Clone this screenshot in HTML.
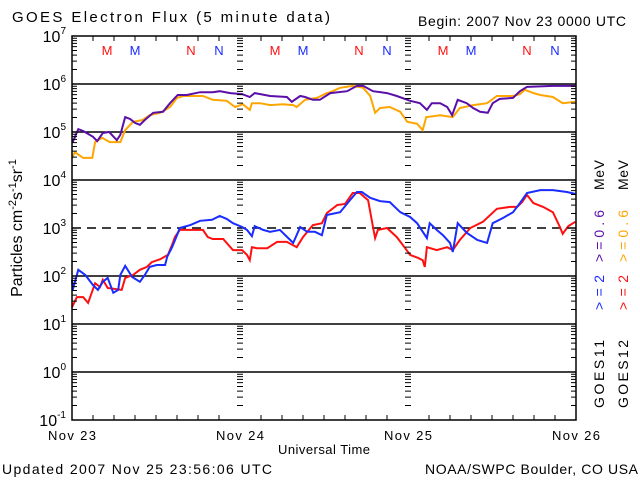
<!DOCTYPE html>
<html><head><meta charset="utf-8"><style>
body{margin:0;background:#fff}
svg{display:block;font-family:"Liberation Sans",sans-serif}
</style></head><body>
<svg id="c" width="640" height="480" viewBox="0 0 640 480" xmlns="http://www.w3.org/2000/svg">
<rect width="640" height="480" fill="#fff"/>
<text x="12" y="22" font-size="15" textLength="318" lengthAdjust="spacing">GOES Electron Flux (5 minute data)</text>
<text x="418" y="26" font-size="14" textLength="208" lengthAdjust="spacing">Begin: 2007 Nov 23 0000 UTC</text>
<text x="278" y="454" font-size="13" textLength="92" lengthAdjust="spacing">Universal Time</text>
<text x="2" y="474" font-size="14" textLength="270" lengthAdjust="spacing">Updated 2007 Nov 25 23:56:06 UTC</text>
<text x="425" y="474" font-size="14" textLength="213" lengthAdjust="spacing">NOAA/SWPC Boulder, CO USA</text>
<text transform="translate(22,228) rotate(-90)" font-size="16" text-anchor="middle">Particles cm<tspan dy="-6" font-size="11">-2</tspan><tspan dy="6">s</tspan><tspan dy="-6" font-size="11">-1</tspan><tspan dy="6">sr</tspan><tspan dy="-6" font-size="11">-1</tspan></text>
<g font-size="14">
<text transform="translate(604,408) rotate(-90)" textLength="68" lengthAdjust="spacing">GOES11</text>
<text transform="translate(604,310) rotate(-90)" fill="#1a2cff" textLength="35" lengthAdjust="spacing">&gt;=2</text>
<text transform="translate(604,262) rotate(-90)" fill="#5a0fa8" textLength="52" lengthAdjust="spacing">&gt;=0.6</text>
<text transform="translate(604,190) rotate(-90)" textLength="30" lengthAdjust="spacing">MeV</text>
<text transform="translate(628,408) rotate(-90)" textLength="68" lengthAdjust="spacing">GOES12</text>
<text transform="translate(628,310) rotate(-90)" fill="#ff1010" textLength="35" lengthAdjust="spacing">&gt;=2</text>
<text transform="translate(628,262) rotate(-90)" fill="#ffa500" textLength="52" lengthAdjust="spacing">&gt;=0.6</text>
<text transform="translate(628,190) rotate(-90)" textLength="30" lengthAdjust="spacing">MeV</text>
</g>
<g id="grid"></g><g id="series"></g><g id="axes"></g>
</svg>
<script>
const hoursP=[0.1,0.9,1.6,3.0,3.6,4.4,5.3,6.4,6.9,7.6,8.3,9.0,9.7,10.4,11.6,13.0,14.0,15.1,16.4,18.3,20.1,21.1,22.6,24.3,25.4,26.1,26.9,28.3,30.7,31.4,32.6,33.3,34.4,35.4,36.9,39.3,40.7,41.6,43.0,45.0,46.4,48.3,49.7,50.7,51.4,52.6,53.6,54.3,55.1,56.4,57.3,58.3,59.4,60.1,61.1,63.0,64.0,65.0,68.7,71.9];
const logPurple=[4.79,5.06,5.02,4.90,4.81,4.98,5.00,4.83,4.94,5.31,5.27,5.19,5.15,5.25,5.40,5.42,5.60,5.77,5.77,5.83,5.83,5.85,5.81,5.79,5.73,5.81,5.79,5.75,5.73,5.63,5.75,5.73,5.67,5.67,5.81,5.85,5.96,5.96,5.85,5.81,5.75,5.65,5.60,5.46,5.60,5.60,5.52,5.35,5.67,5.60,5.50,5.42,5.40,5.60,5.69,5.71,5.85,5.94,5.96,5.96];
const hoursO=[0,0.4,1.6,2.9,3.3,4.3,5.4,6.9,7.6,8.7,10.1,11.1,12.6,14.0,15.0,15.9,18.7,20.1,22.1,23.3,24.4,25.4,25.7,26.9,28.3,30.1,31.6,32.1,33.3,35.0,36.4,36.9,38.3,40.1,41.6,42.6,43.3,44.0,45.4,46.9,47.9,49.3,50.1,50.6,52.6,54.4,55.4,57.3,59.3,60.7,63.0,64.0,64.7,65.9,66.9,68.7,70.1,71.9];
const logOrange=[4.46,4.58,4.46,4.46,4.79,4.88,4.79,4.79,5.04,5.21,5.25,5.35,5.40,5.52,5.71,5.75,5.75,5.67,5.65,5.52,5.58,5.46,5.60,5.60,5.56,5.58,5.56,5.52,5.67,5.71,5.81,5.83,5.92,5.96,5.92,5.75,5.40,5.50,5.52,5.42,5.21,5.17,5.04,5.31,5.35,5.31,5.50,5.56,5.60,5.75,5.75,5.79,5.88,5.81,5.77,5.73,5.60,5.63];
const hoursB=[0,0.1,0.9,1.9,3.0,3.7,4.4,5.1,5.9,6.6,6.9,7.6,8.6,9.7,10.4,11.1,12.1,13.3,13.6,14.3,15.0,15.4,16.9,18.3,20.0,21.1,22.1,23.0,24.3,25.0,25.7,26.1,27.3,28.3,29.7,30.9,31.6,32.6,33.6,34.7,35.7,36.4,38.3,39.7,40.7,41.4,42.6,44.0,45.4,46.9,48.3,49.3,50.7,51.1,52.1,53.0,54.0,54.4,55.1,56.4,57.9,59.3,60.1,61.6,63.0,64.0,65.0,66.9,68.7,70.7,71.9];
const logBlue=[1.92,1.71,2.13,2.02,1.81,1.71,1.88,1.96,1.65,1.71,2.02,2.21,1.98,1.88,2.02,2.19,2.23,2.23,2.40,2.60,2.85,3.00,3.06,3.15,3.17,3.25,3.19,3.10,3.02,2.96,2.83,3.04,2.96,2.92,2.96,2.79,2.69,3.02,2.92,2.92,2.85,3.27,3.33,3.58,3.75,3.75,3.63,3.56,3.54,3.33,3.23,3.10,2.79,3.10,2.96,2.85,2.69,2.50,3.10,2.90,2.75,2.69,3.10,3.21,3.33,3.52,3.73,3.79,3.79,3.75,3.71];
const hoursR=[0,0.7,1.6,2.3,3.3,4.0,4.4,5.1,7.1,7.6,8.7,9.7,10.7,11.4,12.6,13.7,14.3,14.7,15.4,16.9,18.7,19.4,20.1,21.6,23.0,24.3,25.0,25.4,25.7,26.4,27.9,29.3,30.7,32.1,33.0,34.4,35.7,36.4,37.9,39.0,40.1,41.1,42.3,43.0,43.3,43.7,45.0,46.4,47.6,48.3,49.4,50.1,50.4,50.7,52.1,53.6,54.4,55.4,56.9,58.7,60.7,62.6,63.6,64.3,65.0,65.9,67.3,68.7,69.7,70.1,70.9,71.9];
const logRed=[1.35,1.56,1.56,1.44,1.85,1.77,1.92,1.75,1.71,1.96,2.02,2.13,2.19,2.29,2.35,2.44,2.65,2.81,2.96,2.96,2.96,2.81,2.77,2.77,2.54,2.54,2.44,2.33,2.60,2.58,2.58,2.71,2.71,2.60,2.81,3.06,3.10,3.31,3.48,3.50,3.73,3.73,3.58,3.02,2.79,2.96,3.00,2.81,2.58,2.44,2.38,2.33,2.19,2.60,2.54,2.60,2.54,2.75,3.00,3.13,3.40,3.44,3.44,3.54,3.69,3.52,3.44,3.33,3.02,2.88,3.04,3.13];
const dayLabels=["Nov 23","Nov 24","Nov 25","Nov 26"];
const decades=[-1,0,1,2,3,4,5,6,7];
const markers=[["M","#ff1010",5],["M","#1a2cff",9],["N","#ff1010",17],["N","#1a2cff",21]];

const X0=72,X1=576,Y0=36,Y1=420;
const xs=h=>X0+(X1-X0)*h/72;
const ys=l=>Y0+(7-l)*(Y1-Y0)/8;
const NS="http://www.w3.org/2000/svg";
function mk(tag,attrs,parent){const e=document.createElementNS(NS,tag);for(const k in attrs)e.setAttribute(k,attrs[k]);parent.appendChild(e);return e;}
const grid=document.getElementById('grid'),ser=document.getElementById('series'),ax=document.getElementById('axes');

decades.forEach(d=>{
  if(d>-1&&d<7){
    const l=mk('line',{x1:X0,x2:X1,y1:ys(d),y2:ys(d),stroke:'#000','stroke-width':1.5},grid);
    if(d===3)l.setAttribute('stroke-dasharray','9,6');
    
    
  }
  const t=mk('text',{x:X0-6,y:ys(d)+6,'font-size':16,'text-anchor':'end'},ax);
  
  
  t.innerHTML='10<tspan dy="-8" font-size="10">'+d+'</tspan>';
});
let tk='';
for(let d=-1;d<7;d++){for(let m=2;m<=9;m++){const y=ys(d+Math.log10(m));
  tk+=`M${X0} ${y}h5M${X1} ${y}h-5`;
  [1,2].forEach(k=>{const x=xs(24*k);tk+=`M${x-3} ${y}h6`;});}}
decades.forEach(d=>{const y=ys(d);tk+=`M${X0} ${y}h9M${X1} ${y}h-9`;});
for(let h=3;h<72;h+=3){const x=xs(h);if(h%24!==0){tk+=`M${x} ${Y1}v-5M${x} ${Y0}v5`;}}
const tp=mk('path',{d:tk,stroke:'#000','stroke-width':1,fill:'none'},ax);


const fr=mk('rect',{x:X0,y:Y0,width:X1-X0,height:Y1-Y0,fill:'none',stroke:'#000','stroke-width':1.5},ax);


dayLabels.forEach((s,i)=>{
  const t=mk('text',{x:xs(24*i),y:440,'font-size':13,'text-anchor':'middle',textLength:48,lengthAdjust:'spacing'},ax);t.textContent=s;
  
  
});
for(let day=0;day<3;day++)markers.forEach(m=>{
  const t=mk('text',{x:xs(day*24+m[2]),y:55,'font-size':13,'text-anchor':'middle',fill:m[1]},ax);t.textContent=m[0];
  
  
});
function series(hs,ls,col,name){
  const pts=hs.map((h,i)=>xs(h).toFixed(1)+','+ys(ls[i]).toFixed(1)).join(' ');
  const p=mk('polyline',{points:pts,fill:'none',stroke:col,'stroke-width':2},ser);
  
  
}
series(hoursO,logOrange,'#ffa500','goes12-0.6mev-line');
series(hoursP,logPurple,'#5a0fa8','goes11-0.6mev-line');
series(hoursR,logRed,'#ff1010','goes12-2mev-line');
series(hoursB,logBlue,'#1a2cff','goes11-2mev-line');
</script>
</body></html>
